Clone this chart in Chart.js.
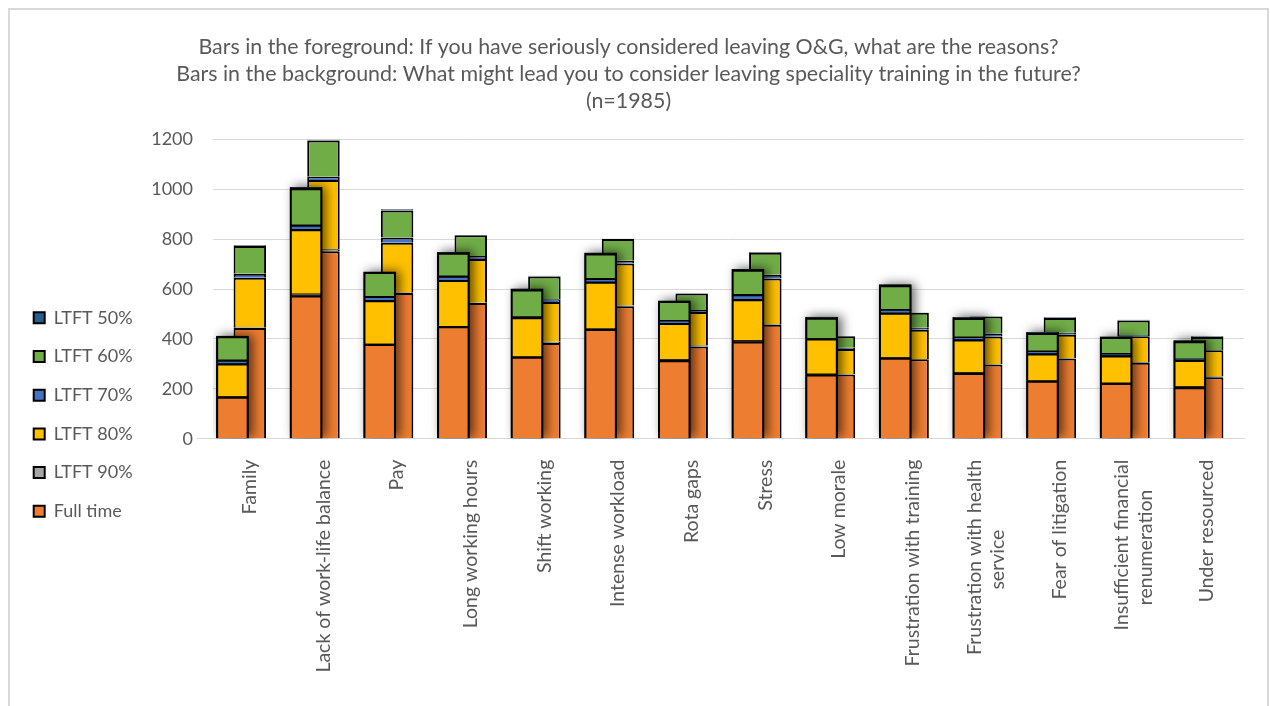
<!DOCTYPE html>
<html>
<head>
<meta charset="utf-8">
<title>Reasons for leaving O&amp;G</title>
<script src="https://cdn.jsdelivr.net/npm/chart.js@4.4.1/dist/chart.umd.min.js"></script>
<style>
  html, body { margin: 0; padding: 0; background: #ffffff; overflow: hidden; }
  #wrap { position: relative; width: 1270px; height: 706px; }
  #frame { position: absolute; left: 8px; top: 8px; width: 1261px; height: 800px;
           border: 2px solid #d9d9d9; box-sizing: border-box; }
  #chart { position: absolute; left: 0; top: 0; }
</style>
</head>
<body>
<div id="wrap">
  <div id="frame"></div>
  <canvas id="chart" width="1270" height="706"></canvas>
</div>
<script>
// Categories (two-line labels are given as arrays)
const categories = [
  'Family', 'Lack of work-life balance', 'Pay', 'Long working hours', 'Shift working',
  'Intense workload', 'Rota gaps', 'Stress', 'Low morale', 'Frustration with training',
  ['Frustration with health', 'service'], 'Fear of litigation',
  ['Insufficient financial', 'renumeration'], 'Under resourced'
];

// Foreground: "If you have seriously considered leaving O&G, what are the reasons?"
const fgFullTime = [168, 574, 380, 451, 328, 440, 314, 390, 257, 324, 263, 232, 223, 206];
const fgLtft90   = [  3,   7,   1,   1,   1,   3,   4,   5,   3,   3,   3,   1,   1,   3];
const fgLtft80   = [130, 258, 174, 184, 158, 186, 146, 164, 142, 178, 132, 108, 109, 106];
const fgLtft70   = [ 15,  19,  17,  17,   3,  15,  12,  20,   1,  15,  11,  12,   9,   5];
const fgLtft60   = [ 95, 146,  96,  92, 108,  98,  76,  98,  82,  95,  75,  71,  66,  71];
const fgLtft50   = [  1,   4,   1,   3,   3,   3,   1,   3,   3,   3,   3,   3,   1,   3];

// Background: "What might lead you to consider leaving speciality training in the future?"
const bgFullTime = [444, 751, 584, 544, 384, 531, 370, 457, 257, 318, 297, 321, 304, 246];
const bgLtft90   = [  3,   8,   3,   1,   5,   3,   4,   3,   1,   1,   1,   1,   3,   3];
const bgLtft80   = [198, 278, 198, 175, 159, 168, 134, 182, 102, 118, 112,  95, 104, 106];
const bgLtft70   = [ 16,  13,  21,  12,  11,  11,   8,  15,   5,   8,  12,   8,   5,   1];
const bgLtft60   = [111, 145, 109,  83,  91,  87,  66,  88,  46,  60,  68,  59,  58,  52];
const bgLtft50   = [  3,   3,   5,   1,   3,   1,   1,   3,   1,   1,   1,   3,   3,   3];

const yTicks = [0, 200, 400, 600, 800, 1000, 1200];

const seriesNames = ['Full time', 'LTFT 90%', 'LTFT 80%', 'LTFT 70%', 'LTFT 60%', 'LTFT 50%'];
const seriesColours = ['#ED7D31', '#A5A5A5', '#FFC000', '#4472C4', '#70AD47', '#255E91'];

const FONT = 'Lato, "Open Sans", "DejaVu Sans", sans-serif';
const TEXT = '#595959';
const LABEL_PX = 19.5;
Chart.defaults.font.family = FONT;
Chart.defaults.color = TEXT;

// Pad the shorter line of a two-line label so the lines sit centred on each other
const measureCtx = document.createElement('canvas').getContext('2d');
function centreLines(label, px) {
  if (!Array.isArray(label)) return label;
  measureCtx.font = px + 'px ' + FONT;
  const widths = label.map(l => measureCtx.measureText(l).width);
  const widest = Math.max(...widths);
  const space = measureCtx.measureText(' ').width;
  return label.map((l, i) => l + ' '.repeat(Math.round((widest - widths[i]) / 2 / space)));
}

function makeSet(name, colour, values, stack) {
  return {
    label: name, data: values, stack: stack,
    backgroundColor: colour, borderColor: '#000000', borderWidth: 2,
    categoryPercentage: 0.709, barPercentage: 1.868
  };
}

const fgValues = [fgFullTime, fgLtft90, fgLtft80, fgLtft70, fgLtft60, fgLtft50];
const bgValues = [bgFullTime, bgLtft90, bgLtft80, bgLtft70, bgLtft60, bgLtft50];
const FG_COUNT = fgValues.length;

const datasets = [];
fgValues.forEach((v, i) => datasets.push(makeSet(seriesNames[i], seriesColours[i], v, 'foreground')));
bgValues.forEach((v, i) => datasets.push(makeSet(seriesNames[i], seriesColours[i], v, 'background')));
// empty third slot so the background stack sits on the category centre
datasets.push({
  label: 'spacer', data: categories.map(() => 0), stack: 'spacer',
  backgroundColor: 'rgba(0,0,0,0)', borderWidth: 0,
  categoryPercentage: 0.709, barPercentage: 1.868
});

// Soft shadow cast by the foreground stacks onto the bars behind them
const foregroundShadow = {
  id: 'foregroundShadow',
  beforeDatasetDraw(chart, args) {
    if (args.index !== FG_COUNT - 1) return;
    const bottom = chart.getDatasetMeta(0).data;
    const top = chart.getDatasetMeta(FG_COUNT - 1).data;
    const { ctx, chartArea } = chart;
    ctx.save();
    ctx.beginPath();
    ctx.rect(chartArea.left, chartArea.top - 30, chartArea.width, chartArea.height + 30);
    ctx.clip();
    ctx.shadowColor = 'rgba(0,0,0,0.6)';
    ctx.shadowBlur = 10;
    ctx.shadowOffsetX = 4;
    ctx.shadowOffsetY = -1;
    ctx.fillStyle = '#000000';
    bottom.forEach((bar, i) => {
      const p = bar.getProps(['x', 'width', 'base'], true);
      const t = top[i].getProps(['y'], true);
      ctx.fillRect(p.x - p.width / 2, t.y, p.width, p.base - t.y);
    });
    ctx.restore();
  }
};

// Keep the legend column in the lower part of the left margin, beside the axis labels
const legendPlacement = {
  id: 'legendPlacement',
  afterLayout(chart) {
    const lg = chart.legend;
    lg.bottom = chart.chartArea.bottom + 102.3;
    lg.height = lg.bottom - lg.top;
  }
};

// Centre two-line category labels on their tick instead of starting at it
const centreMultiline = {
  id: 'centreMultiline',
  beforeDraw(chart) {
    chart.scales.x.getLabelItems().forEach((item) => {
      if (Array.isArray(item.label) && item.label.length > 1 && !item.centred) {
        item.textOffset -= item.font.lineHeight * (item.label.length - 1) / 2;
        item.centred = true;
      }
    });
  }
};

new Chart(document.getElementById('chart'), {
  type: 'bar',
  data: { labels: categories, datasets: datasets },
  plugins: [foregroundShadow, legendPlacement, centreMultiline],
  options: {
    responsive: false,
    animation: false,
    devicePixelRatio: 1,
    layout: { padding: { left: 13, right: 26, top: 0, bottom: 0 } },
    plugins: {
      tooltip: { enabled: false },
      title: {
        display: true,
        text: [
          'Bars in the foreground: If you have seriously considered leaving O&G, what are the reasons?',
          'Bars in the background: What might lead you to consider leaving speciality training in the future?',
          '(n=1985)'
        ],
        color: TEXT,
        font: { size: 21.4, weight: 'normal', lineHeight: '27px' },
        padding: { top: 33.5, bottom: 24.8 }
      },
      legend: {
        position: 'left',
        align: 'end',
        reverse: true,
        labels: {
          filter: (item) => item.datasetIndex < FG_COUNT,
          boxWidth: 11, boxHeight: 11, padding: 20.7,
          color: TEXT, font: { size: 18 }
        }
      }
    },
    scales: {
      x: {
        stacked: true,
        grid: { display: false, drawTicks: false },
        border: { display: true, color: '#d9d9d9', width: 1 },
        ticks: {
          autoSkip: false, minRotation: 90, maxRotation: 90, padding: 21,
          color: TEXT, font: { size: LABEL_PX },
          callback: (value, index) => centreLines(categories[index], LABEL_PX)
        },
        afterFit: (scale) => { scale.height = 267.3; }
      },
      y: {
        stacked: true,
        min: yTicks[0], max: yTicks[yTicks.length - 1],
        afterBuildTicks: (scale) => { scale.ticks = yTicks.map(v => ({ value: v })); },
        grid: {
          color: '#d9d9d9', lineWidth: 1, drawTicks: true, tickLength: 16, tickWidth: 1,
          tickColor: (ctx) => (ctx.tick && ctx.tick.value === 0 ? '#d9d9d9' : 'rgba(0,0,0,0)')
        },
        border: { display: false },
        ticks: { padding: 4, color: TEXT, font: { size: 18 }, callback: (v) => String(v) },
        afterFit: (scale) => { scale.width = 213 - 13 - scale.chart.legend.width; }
      }
    }
  }
});
</script>
</body>
</html>
